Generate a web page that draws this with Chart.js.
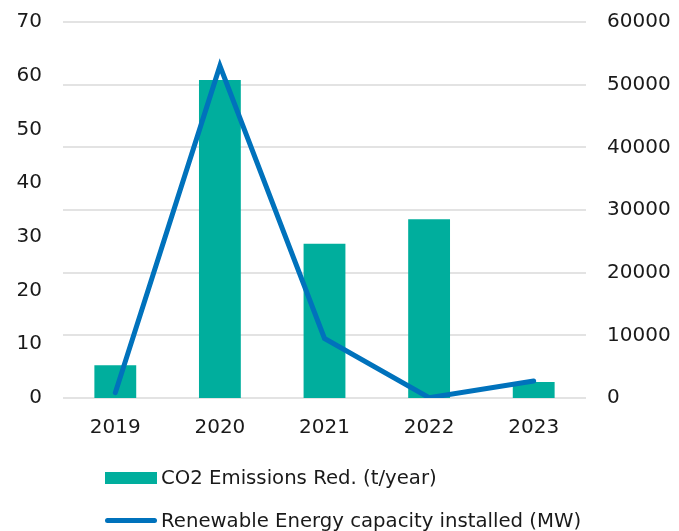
<!DOCTYPE html>
<html>
<head>
<meta charset="utf-8">
<script src="https://cdn.jsdelivr.net/npm/chart.js@4"></script>
<style>
  html, body { margin: 0; padding: 0; background: #fff; overflow: hidden; }
  #wrap { position: relative; width: 679px; height: 531px; }
  #legend { position: absolute; left: 105px; top: 456px; font-family: "DejaVu Sans", sans-serif; font-size: 19.7px; color: #1a1a1a; }
  .item { display: flex; align-items: center; height: 43px; white-space: nowrap; }
  .swatch { width: 52px; margin-right: 4px; }
</style>
</head>
<body>
<div id="wrap">
  <canvas id="myChart" width="679" height="531"></canvas>
  <div id="legend"></div>
</div>
<script>
var years = ["2019", "2020", "2021", "2022", "2023"];
var co2Reduction = [6.1, 59.2, 28.7, 33.3, 3.0];
var capacityMW = [850, 53000, 9500, 50, 2700];

var barColor = "#00ae9d";
var lineColor = "#0072bc";

var ctx = document.getElementById('myChart');
var myChart = new Chart(ctx, {
  type: 'bar',
  data: {
    labels: years,
    datasets: [
      {
        type: 'line',
        label: "Renewable Energy capacity installed (MW)",
        data: capacityMW,
        yAxisID: 'y1',
        borderColor: lineColor,
        backgroundColor: lineColor,
        borderWidth: 5,
        borderCapStyle: 'round',
        pointRadius: 0,
        tension: 0,
        order: 0
      },
      {
        label: "CO2 Emissions Red. (t/year)",
        data: co2Reduction,
        yAxisID: 'y',
        backgroundColor: barColor,
        barPercentage: 0.4,
        categoryPercentage: 1,
        order: 1
      }
    ]
  },
  options: {
    responsive: false,
    animation: false,
    layout: { padding: { top: 22, bottom: 0 } },
    plugins: {
      legend: { display: false },
      tooltip: { enabled: false }
    },
    scales: {
      x: {
        grid: { display: false, drawTicks: false },
        border: { display: false },
        ticks: { color: '#1a1a1a', padding: 18, font: { family: 'DejaVu Sans', size: 20 } },
        afterFit: function (scale) { scale.height = 133; }
      },
      y: {
        position: 'left',
        min: 0, max: 70,
        grid: { display: false, drawTicks: false },
        border: { display: false },
        ticks: { stepSize: 10, color: '#1a1a1a', padding: 21, font: { family: 'DejaVu Sans', size: 20 } },
        afterFit: function (scale) { scale.width = 63; scale.paddingTop = 0; scale.paddingBottom = 0; }
      },
      y1: {
        position: 'right',
        min: 0, max: 60000,
        grid: { color: '#e3e3e3', lineWidth: 2, drawTicks: false },
        border: { display: false },
        ticks: {
          stepSize: 10000, color: '#1a1a1a', padding: 21, font: { family: 'DejaVu Sans', size: 20 },
          callback: function (v) { return String(v); }
        },
        afterFit: function (scale) { scale.width = 93; scale.paddingTop = 0; scale.paddingBottom = 0; }
      }
    }
  }
});

// legend below the plot, one row per series
var legend = document.getElementById('legend');
[myChart.data.datasets[1], myChart.data.datasets[0]].forEach(function (ds) {
  var row = document.createElement('div');
  row.className = 'item';
  var sw = document.createElement('span');
  sw.className = 'swatch';
  if (ds.type === 'line') {
    sw.style.height = '5px';
    sw.style.borderRadius = '3px';
    sw.style.background = ds.borderColor;
  } else {
    sw.style.height = '12px';
    sw.style.background = ds.backgroundColor;
  }
  row.appendChild(sw);
  var txt = document.createElement('span');
  txt.textContent = ds.label;
  row.appendChild(txt);
  legend.appendChild(row);
});
</script>
</body>
</html>
